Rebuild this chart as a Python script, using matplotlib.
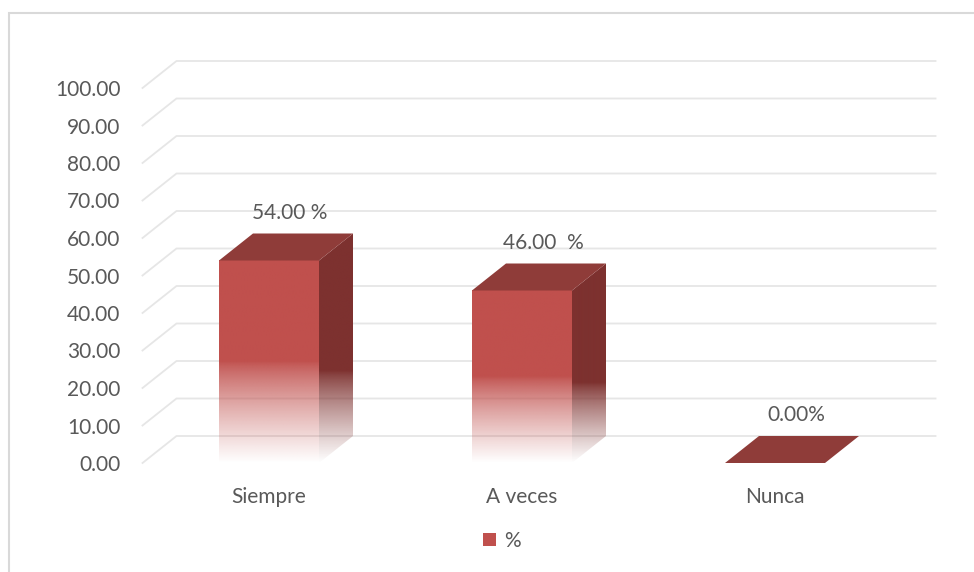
import numpy as np
import matplotlib.pyplot as plt
from matplotlib.patches import Polygon, Rectangle
from matplotlib.colors import to_rgb

categories = ["Siempre", "A veces", "Nunca"]
values = [54.0, 46.0, 0.0]
value_labels = ["54.00 %", "46.00  %", "0.00%"]
yticks = [0, 10, 20, 30, 40, 50, 60, 70, 80, 90, 100]
legend_label = "%"

FRONT = "#C0504D"
SIDE = "#7D312F"
TOP = "#8F3C39"
TXT = "#595959"
GRID = "#E6E6E6"

plt.rcParams['font.family'] = ['Lato', 'DejaVu Sans']

fig = plt.figure(figsize=(9.74, 5.72), dpi=100)
ax = fig.add_axes([142.5 / 974, 109 / 572, 759 / 974, 375 / 572])
ax.set_xlim(-0.5, 2.5)
ax.set_ylim(0, 100)

# depth offset of the 3d look, in data units
ddx = 34 / 253
ddy = 27 / 3.75
bw = 100 / 253


def grad(c, n=200, solid=0.5):
    r, g, b = to_rgb(c)
    a = np.ones(n)
    t = np.linspace(0, 1, n)  # 0 at top, 1 at bottom
    m = t > solid
    a[m] = 1 - ((t[m] - solid) / (1 - solid)) ** 0.8
    img = np.zeros((n, 1, 4))
    img[:, 0, 0], img[:, 0, 1], img[:, 0, 2], img[:, 0, 3] = r, g, b, a
    return img


# gridlines with the floor-to-back diagonal
for v in yticks:
    ax.plot([-0.5, -0.5 + ddx, 2.5 + ddx], [v, v + ddy, v + ddy],
            color=GRID, lw=1.3, clip_on=False, zorder=1)

for i, v in enumerate(values):
    x0, x1 = i - bw / 2, i + bw / 2
    if v > 0:
        # side face
        side = Polygon([(x1, 0), (x1 + ddx, ddy), (x1 + ddx, v + ddy), (x1, v)],
                       closed=True, facecolor='none', edgecolor='none')
        ax.add_patch(side)
        im = ax.imshow(grad(SIDE, solid=0.6), extent=[x1, x1 + ddx, 0, v + ddy],
                       aspect='auto', zorder=2, interpolation='bilinear')
        im.set_clip_path(side)
        im.set_clip_on(True)
        # front face
        ax.imshow(grad(FRONT), extent=[x0, x1, 0, v], aspect='auto',
                  zorder=3, interpolation='bilinear')
    # top face
    ax.add_patch(Polygon([(x0, v), (x0 + ddx, v + ddy), (x1 + ddx, v + ddy), (x1, v)],
                         closed=True, facecolor=TOP, edgecolor='none', zorder=4,
                         clip_on=False))
    ax.text(i + ddx * 0.62, v + ddy + 5.5, value_labels[i], ha='center', va='center',
            fontsize=15, color=TXT)

ax.set_xlim(-0.5, 2.5)
ax.set_ylim(0, 100)
ax.set_yticks(yticks)
ax.set_yticklabels([f"{t:.2f}" for t in yticks])
ax.set_xticks(range(len(categories)))
ax.set_xticklabels(categories)
ax.tick_params(axis='y', length=0, pad=16, labelsize=15, labelcolor=TXT)
ax.tick_params(axis='x', length=0, pad=17, labelsize=15, labelcolor=TXT)
for s in ax.spines.values():
    s.set_visible(False)
ax.set_facecolor('none')

# legend
h = Rectangle((0, 0), 1, 1, facecolor=FRONT, edgecolor='none')
fig.legend([h], [legend_label], loc='center', bbox_to_anchor=(502 / 974, 1 - 541 / 572),
           frameon=False, fontsize=15, labelcolor=TXT, handlelength=0.6,
           handleheight=0.6, handletextpad=0.4)

# chart area border
fig.patches.append(Rectangle((9 / 974, -0.05), 1.1, 1.05 - 13 / 572,
                             transform=fig.transFigure, fill=False,
                             edgecolor='#D9D9D9', lw=1.5))

fig.savefig("out.png", dpi=100)
